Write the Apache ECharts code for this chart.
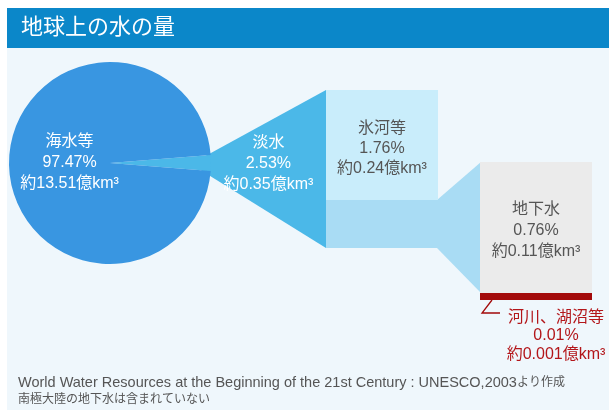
<!DOCTYPE html>
<html>
<head>
<meta charset="utf-8">
<script src="https://cdn.jsdelivr.net/npm/echarts@6/dist/echarts.min.js"></script>
<style>
  html, body { margin: 0; padding: 0; background: #fff; }
  #chart { width: 609px; height: 410px; }
</style>
</head>
<body>
<div id="chart"></div>
<script>
// 見出しと出典
const titleText = '地球上の水の量';
const sourceLatin = 'World Water Resources at the Beginning of the 21st Century : UNESCO,2003';
const sourceTail = 'より作成';
const sourceNote = '南極大陸の地下水は含まれていない';

// 地球上の水：淡水と海水等（割合 %、体積 億km³）
const earthNames = ['淡水', '海水等'];
const earthShares = [2.53, 97.47];
const earthVolumes = [0.35, 13.51];

// 淡水の内訳（割合 %、体積 億km³）
const freshNames = ['氷河等', '地下水', '河川、湖沼等'];
const freshShares = [1.76, 0.76, 0.01];
const freshVolumes = [0.24, 0.11, 0.001];

// --- layout & style ---
const FONT = '"Liberation Sans", "Noto Sans CJK JP", sans-serif';
const pieCenter = [110, 163];
const pieRadius = 101;
const colGrid = { left: 326, top: 90, width: 112, height: 158 };
const groundGrid = { left: 480, top: 162, width: 112, height: 138 };
const C = {
  bar: '#0b87c9', panel: '#eff7fc',
  sea: '#3996e1', fresh: '#4bb8e8',
  glacier: '#c9edfb', band: '#a9dcf4',
  ground: '#ebebeb', river: '#a30a0a', riverText: '#b3161a',
  text: '#555555'
};

const labelText = (name, share, vol) => `${name}\n${share}%\n約${vol}億km³`;
const earthTotal = earthShares[0] + earthShares[1];
const lowerBand = freshShares[1] + freshShares[2];
const apex = [pieCenter[0] + 0.8 * pieRadius, pieCenter[1] + 1];

const chart = echarts.init(document.getElementById('chart'), null, { renderer: 'canvas' });

chart.setOption({
  animation: false,
  backgroundColor: '#ffffff',
  title: {
    text: titleText, left: 21, top: 17, padding: 0,
    textStyle: { color: '#ffffff', fontSize: 22, fontWeight: 'normal', fontFamily: FONT }
  },
  grid: [
    Object.assign({}, colGrid, { containLabel: false }),
    Object.assign({}, groundGrid, { containLabel: false })
  ],
  xAxis: [
    { type: 'category', gridIndex: 0, data: [earthNames[0]], show: false },
    { type: 'category', gridIndex: 1, data: [freshNames[1]], show: false }
  ],
  yAxis: [
    { type: 'value', gridIndex: 0, min: 0, max: earthShares[0], show: false },
    { type: 'value', gridIndex: 1, min: 0, max: lowerBand, show: false }
  ],
  series: [
    {
      type: 'pie', center: pieCenter, radius: pieRadius,
      startAngle: earthShares[0] / earthTotal * 180, clockwise: true,
      silent: true, avoidLabelOverlap: false, z: 3,
      itemStyle: { borderWidth: 0 },
      data: earthNames.map((n, i) => ({
        name: n, value: earthShares[i],
        itemStyle: { color: i === 0 ? C.fresh : C.sea }
      })),
      label: {
        show: true, position: 'inside', color: '#ffffff',
        fontSize: 16, lineHeight: 21, fontFamily: FONT,
        formatter: p => labelText(p.name, p.value, earthVolumes[p.dataIndex])
      },
      labelLine: { show: false },
      // 淡水 label sits inside the fan, 海水等 label left of centre
      labelLayout: p => p.dataIndex === 0
        ? { x: (apex[0] + colGrid.left) / 2 + 10, y: pieCenter[1] + 1, align: 'center', verticalAlign: 'middle' }
        : { x: pieCenter[0] - 0.4 * pieRadius, y: pieCenter[1], align: 'center', verticalAlign: 'middle' }
    },
    {
      type: 'bar', name: freshNames[1] + '・' + freshNames[2],
      xAxisIndex: 0, yAxisIndex: 0, stack: 'fresh', barWidth: '100%', silent: true,
      data: [lowerBand], itemStyle: { color: C.band }
    },
    {
      type: 'bar', name: freshNames[0],
      xAxisIndex: 0, yAxisIndex: 0, stack: 'fresh', barWidth: '100%', silent: true,
      data: [freshShares[0]], itemStyle: { color: C.glacier },
      label: {
        show: true, position: 'insideTop', distance: 29,
        color: C.text, fontSize: 16, lineHeight: 20, fontFamily: FONT,
        formatter: () => labelText(freshNames[0], freshShares[0], freshVolumes[0])
      }
    },
    {
      type: 'bar', name: freshNames[2],
      xAxisIndex: 1, yAxisIndex: 1, stack: 'ground', barWidth: '100%', silent: true,
      barMinHeight: 7, z: 4,
      data: [freshShares[2]], itemStyle: { color: C.river },
      label: {
        show: true, position: 'bottom', distance: 8, offset: [20, 0],
        color: C.riverText, fontSize: 16, lineHeight: 18.5, fontFamily: FONT,
        formatter: () => labelText(freshNames[2], freshShares[2], freshVolumes[2])
      }
    },
    {
      type: 'bar', name: freshNames[1],
      xAxisIndex: 1, yAxisIndex: 1, stack: 'ground', barWidth: '100%', silent: true,
      data: [freshShares[1]], itemStyle: { color: C.ground },
      label: {
        show: true, position: 'inside',
        color: C.text, fontSize: 16, lineHeight: 21, fontFamily: FONT,
        formatter: () => labelText(freshNames[1], freshShares[1], freshVolumes[1])
      }
    }
  ]
});

// connectors and frame, placed from the axes' own pixel mapping
const yPix = (axis, v) => chart.convertToPixel({ yAxisIndex: axis }, v);
const colL = colGrid.left, colR = colGrid.left + colGrid.width;
const grL = groundGrid.left;
const colTop = yPix(0, earthShares[0]), colBot = yPix(0, 0);
const bandTop = yPix(0, lowerBand);
const grTop = yPix(1, lowerBand), grBot = yPix(1, 0);

chart.setOption({
  graphic: [
    { type: 'rect', z: 0, silent: true, shape: { x: 7, y: 48, width: 602, height: 362 }, style: { fill: C.panel } },
    { type: 'rect', z: 1, silent: true, shape: { x: 7, y: 8, width: 602, height: 40 }, style: { fill: C.bar } },
    {
      type: 'polygon', z: 1, silent: true,
      shape: { points: [apex, [colL, colTop], [colL, colBot]] },
      style: { fill: C.fresh }
    },
    {
      type: 'polygon', z: 1, silent: true,
      shape: { points: [[colR - 1, bandTop], [grL + 1, grTop], [grL + 1, grBot - 7], [colR - 1, colBot]] },
      style: { fill: C.band }
    },
    {
      type: 'polyline', z: 10, silent: true,
      shape: { points: [[grL + 12, grBot], [grL + 2, grBot + 13], [grL + 20, grBot + 13]] },
      style: { stroke: C.river, lineWidth: 1.3, fill: null }
    },
    {
      type: 'text', z: 10, silent: true, x: 18, y: 383,
      style: {
        text: `{a|${sourceLatin}}{b|${sourceTail}}`, fill: C.text, verticalAlign: 'middle',
        rich: {
          a: { fontSize: 14.5, fontFamily: FONT, fill: C.text },
          b: { fontSize: 12, fontFamily: FONT, fill: C.text }
        }
      }
    },
    {
      type: 'text', z: 10, silent: true, x: 18, y: 400,
      style: { text: sourceNote, fill: C.text, fontSize: 12, fontFamily: FONT, verticalAlign: 'middle' }
    }
  ]
});
</script>
</body>
</html>
